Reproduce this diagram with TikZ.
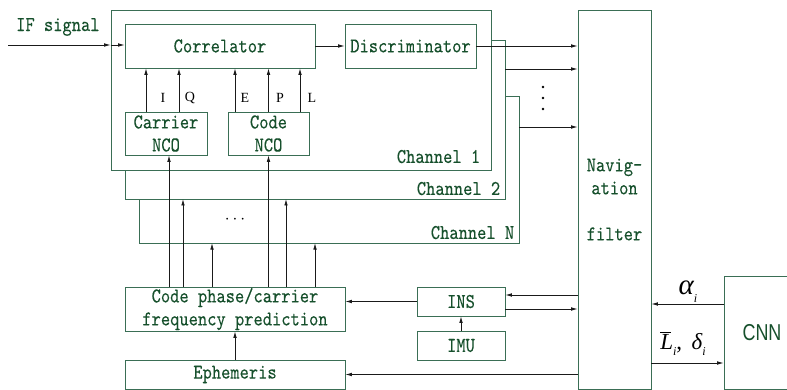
\documentclass[tikz,border=0pt]{standalone}
\usepackage{fontspec}
\usetikzlibrary{arrows.meta}
\newfontfamily\monof[FakeStretch=0.84,FakeBold=0.12]{lmmono10-regular.otf}
\newfontfamily\serf{Liberation Serif}
\newfontfamily\cnnf[FakeStretch=0.78]{Liberation Sans}
\definecolor{txt}{HTML}{16502C}
\definecolor{bdr}{HTML}{3A6E55}
\definecolor{arc}{HTML}{1A1A1A}
\begin{document}
\begin{tikzpicture}[x=1pt,y=-1pt,
  box/.style={draw=bdr, line width=0.8pt, fill=white, inner sep=0pt, text=txt,
    font=\monof\fontsize{21}{23}\selectfont, align=center},
  lbl/.style={inner sep=0pt, text=txt, font=\monof\fontsize{21}{23}\selectfont},
  sig/.style={inner sep=0pt, text=black, font=\serf\fontsize{14}{14}\selectfont},
  mlbl/.style={inner sep=0pt, text=black, font=\serf\itshape\fontsize{23}{23}\selectfont},
  arr/.style={draw=arc, line width=0.8pt, -{Latex[length=6.5pt,width=3.6pt]}},
  dot/.style={circle, fill=black, inner sep=0pt, minimum size=2.6pt}]
\useasboundingbox (0,0) rectangle (787,390);
% channel boxes
\node[box, minimum width=380pt, minimum height=147pt] (chN) at (329,169.5) {};
\node[box, minimum width=380pt, minimum height=159pt] (ch2) at (315,119.5) {};
\node[box, minimum width=380pt, minimum height=160pt] (ch1) at (301,90) {};
\node[lbl, anchor=south east] (lN) at ([shift={(-5pt,4pt)}]chN.south east) {Channel N};
\node[lbl, anchor=south east] (l2) at ([shift={(-5pt,4pt)}]ch2.south east) {Channel 2};
\node[lbl, anchor=south east] (l1) at ([shift={(-11pt,7pt)}]ch1.south east) {Channel 1};
% inner blocks
\node[box, minimum width=190pt, minimum height=44pt] (corr) at (220,46) {Correlator};
\node[box, minimum width=131pt, minimum height=44pt] (disc) at (410.5,46) {Discriminator};
\node[box, minimum width=82pt, minimum height=43pt] (carrier) at (166,133.5) {Carrier\\NCO};
\node[box, minimum width=81pt, minimum height=43pt] (code) at (268.5,133.5) {Code\\NCO};
% other blocks
\node[box, minimum width=73pt, minimum height=379pt] (nav) at (614.5,199.5) {Navig-\\ation\\[23pt]filter};
\node[box, minimum width=220pt, minimum height=44pt] (pred) at (235,309) {Code phase/carrier\\frequency prediction};
\node[box, minimum width=220pt, minimum height=29pt] (eph) at (235,374.5) {Ephemeris};
\node[box, minimum width=88pt, minimum height=29pt] (ins) at (461,301.5) {INS};
\node[box, minimum width=88pt, minimum height=29pt] (imu) at (461,345.5) {IMU};
\node[box, minimum width=76pt, minimum height=113pt, font=\cnnf\fontsize{23}{23}\selectfont] (cnn) at (762,332.5) {CNN};
% IF signal
\node[lbl, anchor=west] (iflab) at (16,27) {IF signal};
\coordinate (ifs) at (8,45);
\coordinate (ch1in) at (ch1.west |- ifs);
\draw[arr] (ifs) -- (ch1in);
\draw[arr] (ch1in) -- (ch1in -| corr.west);
\draw[arr] (corr.east) -- (disc.west);
% NCO outputs
\coordinate (pI) at ([xshift=-20pt]carrier.south);
\coordinate (pQ) at ([xshift=13pt]carrier.south);
\coordinate (pE) at ([xshift=-33.5pt]code.south);
\coordinate (pP) at (code.south);
\coordinate (pL) at ([xshift=31.5pt]code.south);
\foreach \p in {pI,pQ,pE,pP,pL}{\draw[arr] (\p |- carrier.north) -- (\p |- corr.south);}
\node[sig] (tI) at (163,98) {I};
\node[sig] (tQ) at (190,98) {Q};
\node[sig] (tE) at (245,98) {E};
\node[sig] (tP) at (280,98) {P};
\node[sig] (tL) at (312,98) {L};
% outputs to navigation filter
\draw[arr] (disc.east) -- (disc.east -| nav.west);
\coordinate (c2o) at (505,69);
\coordinate (cNo) at (519,127);
\draw[arr] (c2o) -- (c2o -| nav.west);
\draw[arr] (cNo) -- (cNo -| nav.west);
\node[dot] (d1) at (543,87) {};
\node[dot] (d2) at (543,98) {};
\node[dot] (d3) at (543,109) {};
% prediction taps
\coordinate (t1a) at ([xshift=3pt]carrier.south);
\coordinate (t1b) at (code.south);
\coordinate (t2a) at (183,199);
\coordinate (t2b) at (286,199);
\coordinate (tNa) at (212,243);
\coordinate (tNb) at (315,243);
\foreach \t in {t1a,t1b,t2a,t2b,tNa,tNb}{\draw[arr] (pred.north -| \t) -- (\t);}
\node[inner sep=0pt, font=\serf\fontsize{18}{18}\selectfont] (hdots) at (235,220) {$\cdots$};
% INS / IMU / ephemeris
\coordinate (insin) at ([yshift=6.5pt]ins.east);
\coordinate (insout) at ([yshift=-7.5pt]ins.east);
\draw[arr] (insin -| nav.west) -- (insin);
\draw[arr] (insout) -- (insout -| nav.west);
\draw[arr] (ins.west) -- (ins.west -| pred.east);
\draw[arr] (imu.north) -- (ins.south);
\draw[arr] (eph.east -| nav.west) -- (eph.east);
\draw[arr] (eph.north) -- (pred.south);
% CNN
\coordinate (cnA) at ([yshift=28.5pt]cnn.west);
\coordinate (cnB) at ([yshift=-30.5pt]cnn.west);
\draw[arr] (cnA) -- (cnA -| nav.east);
\draw[arr] (cnB -| nav.east) -- (cnB);
\node[mlbl, font=\serf\itshape\fontsize{29}{29}\selectfont] (alab) at (688,292) {α\raisebox{-8pt}{\fontsize{12}{12}\selectfont i}};
\node[mlbl] (llab) at (683,344) {\rlap{\rule[17pt]{11pt}{0.8pt}}L\raisebox{-6pt}{\fontsize{12}{12}\selectfont i}{\upshape ,} \,δ\raisebox{-6pt}{\fontsize{12}{12}\selectfont i}};
\end{tikzpicture}
\end{document}
